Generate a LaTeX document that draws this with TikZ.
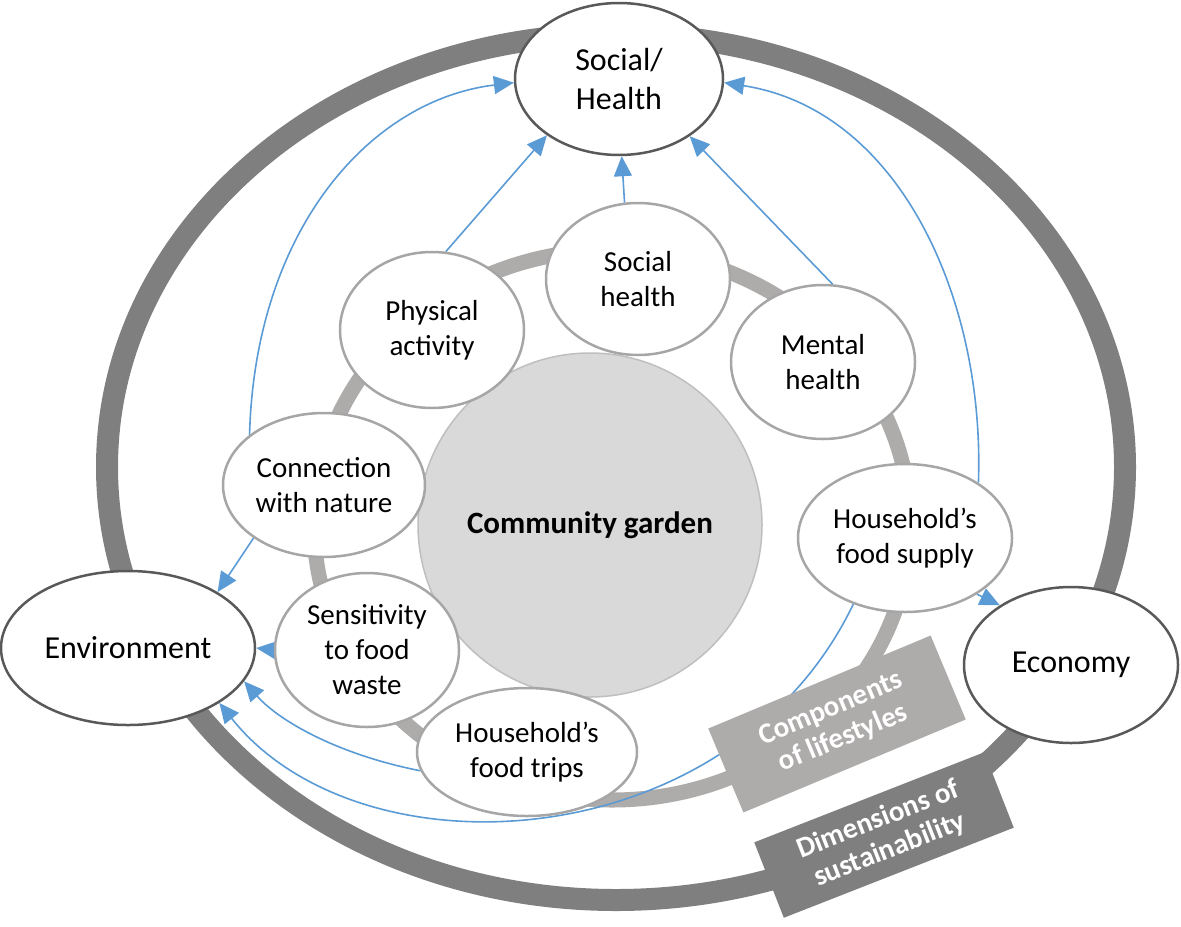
\documentclass[tikz,border=0pt]{standalone}
\usepackage{fontspec}
\setmainfont{Carlito}
\usepackage{tikz}
\usetikzlibrary{shapes.geometric,arrows.meta}
\definecolor{ringdark}{HTML}{7F7F7F}
\definecolor{ringlight}{HTML}{AEABAB}
\definecolor{linkblue}{HTML}{5B9BD5}
\definecolor{dimline}{HTML}{595959}
\definecolor{compline}{HTML}{A6A6A6}
\definecolor{gardenfill}{HTML}{D9D9D9}
\pgfdeclarelayer{rings}
\pgfdeclarelayer{links}
\pgfsetlayers{rings,links,main}

\begin{document}
\begin{tikzpicture}[
		x=0.5pt, y=-0.5pt,
		dim/.style  = {draw=dimline, line width=1.25pt, fill=white, ellipse, inner sep=0pt, align=center, font=\fontsize{16}{19.5}\selectfont},
		comp/.style = {draw=compline, line width=1.25pt, fill=white, ellipse, inner sep=0pt, align=center, font=\fontsize{14.5}{17.5}\selectfont},
		tag/.style  = {text=white, inner sep=0pt, align=center, font=\bfseries\fontsize{14.5}{16}\selectfont},
		link/.style = {draw=linkblue, line width=0.8pt, -{Triangle[length=10pt, width=9pt]}}
	]
	\useasboundingbox (0,0) rectangle (1181,926);

	% the two rings
	\begin{pgfonlayer}{rings}
		\draw[ringdark, line width=11pt] (616,467) ellipse [x radius=254.5pt, y radius=216.5pt];
		\draw[ringlight, line width=7.5pt] (612,525) ellipse [x radius=149pt, y radius=137.5pt];
	\end{pgfonlayer}

	\node[tag, fill=ringlight, rotate=22.7, minimum width=120.5pt, minimum height=45.5pt] (comptag) at (837,724) {Components\\of lifestyles};
	\node[tag, fill=ringdark, rotate=21.4, minimum width=123.5pt, minimum height=40.5pt] (dimtag) at (884,835) {Dimensions of\\sustainability};

	% dimensions of sustainability
	\node[dim, minimum width=104pt, minimum height=76pt] (soc) at (619,79)   {Social/\\Health};
	\node[dim, minimum width=127pt, minimum height=77pt] (env) at (128,648)  {Environment};
	\node[dim, minimum width=107pt, minimum height=78pt] (eco) at (1071,665) {Economy};

	\node[circle, draw=black!25, line width=0.75pt, fill=gardenfill, minimum size=172pt, font=\bfseries\fontsize{15.5}{18}\selectfont] (garden) at (590,525) {Community garden};

	% components of lifestyles
	\node[comp, minimum width=92pt,  minimum height=76pt] (sh)   at (638,279) {Social\\health};
	\node[comp, minimum width=92pt,  minimum height=78pt] (phys) at (432,330) {Physical\\activity};
	\node[comp, minimum width=92pt,  minimum height=77pt] (ment) at (823,362) {Mental\\health};
	\node[comp, minimum width=101pt, minimum height=72pt] (conn) at (324,485) {Connection\\with nature};
	\node[comp, minimum width=107pt, minimum height=74pt] (sup)  at (905,538) {Household’s\\food supply};
	\node[comp, minimum width=92pt,  minimum height=77pt] (sens) at (367,650) {Sensitivity\\to food\\waste};
	\node[comp, minimum width=110pt, minimum height=64pt] (trip) at (527,752) {Household’s\\food trips};

	\begin{pgfonlayer}{links}
		\draw[link] (conn.146) .. controls (255,230) and (370,100) .. (soc.182);
		\draw[link] (phys.80) -- (soc.218);
		\draw[link] (sh.100) -- (soc.272);
		\draw[link] (ment.83) -- (soc.-39);
		\draw[link] (sup.37) .. controls (985,300) and (900,110) .. (soc.-2);
		\draw[link] (conn.217) -- (env.32);
		\draw[link] (sens.west) -- (env.east);
		\draw[link] (trip.190) .. controls (340,755) and (280,722) .. (env.-16);
		\draw[link] (sup.232) .. controls (730,860) and (360,880) .. (env.-31);
		\draw[link] (sup.-38) -- (eco.140);
	\end{pgfonlayer}
\end{tikzpicture}
\end{document}
